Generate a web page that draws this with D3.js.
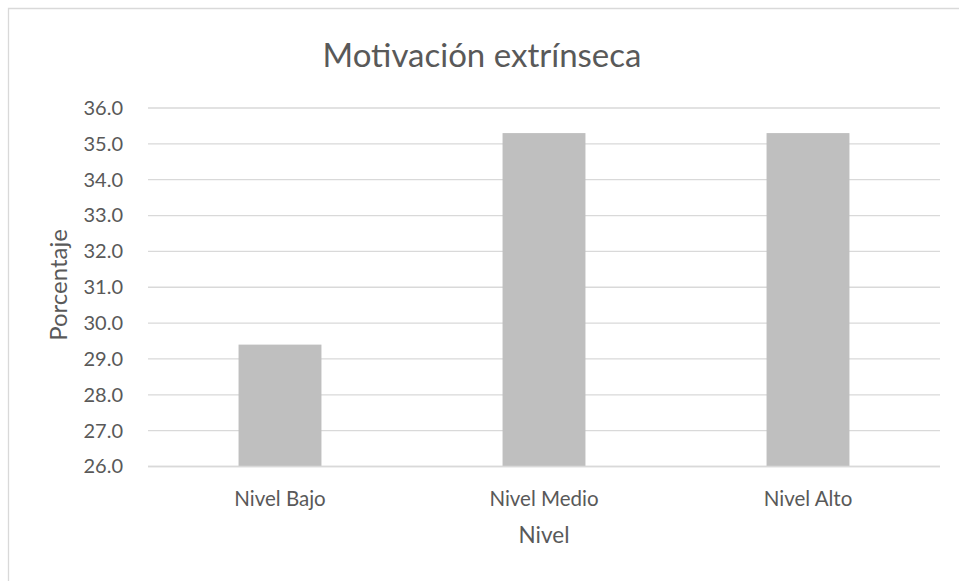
<!DOCTYPE html>
<html>
<head>
<meta charset="utf-8">
<script src="https://cdn.jsdelivr.net/npm/d3@7"></script>
<style>
  html, body { margin: 0; padding: 0; background: #fff; overflow: hidden; }
  svg { display: block; font-family: Lato, "Open Sans", sans-serif; }
</style>
</head>
<body>
<svg id="chart" width="959" height="581"></svg>
<script>
// Niveles de motivación extrínseca (porcentaje de estudiantes)
const categories = ["Nivel Bajo", "Nivel Medio", "Nivel Alto"];
const values = [29.4, 35.3, 35.3];
const yTicks = [26, 27, 28, 29, 30, 31, 32, 33, 34, 35, 36];
const title = "Motivación extrínseca";
const xTitle = "Nivel";
const yTitle = "Porcentaje";

const svg = d3.select("#chart");
const plot = { left: 148, right: 940, top: 108, bottom: 466.5 };

// chart area frame: only its top and left edges fall inside the page
svg.append("path")
  .attr("d", "M8.5,581V8.5H959")
  .attr("fill", "none").attr("stroke", "#d9d9d9").attr("stroke-width", 1.3);

const x = d3.scaleBand()
  .domain(categories)
  .range([plot.left, plot.right])
  .paddingInner(0).paddingOuter(0);

const y = d3.scaleLinear()
  .domain([26, 36])
  .range([plot.bottom, plot.top]);

const barWidth = x.bandwidth() * 0.314;

// horizontal gridlines
svg.append("g")
  .selectAll("line")
  .data(yTicks)
  .join("line")
  .attr("x1", plot.left).attr("x2", plot.right)
  .attr("y1", d => y(d)).attr("y2", d => y(d))
  .attr("stroke", "#d9d9d9").attr("stroke-width", 1.3);

// bars
svg.append("g")
  .selectAll("rect")
  .data(values)
  .join("rect")
  .attr("x", (d, i) => x(categories[i]) + (x.bandwidth() - barWidth) / 2)
  .attr("width", barWidth)
  .attr("y", d => y(d))
  .attr("height", d => y(26) - y(d))
  .attr("fill", "#bfbfbf");

// baseline axis line
svg.append("line")
  .attr("x1", plot.left).attr("x2", plot.right)
  .attr("y1", y(26)).attr("y2", y(26))
  .attr("stroke", "#d9d9d9").attr("stroke-width", 1.3);

// y axis tick labels
const yAxis = d3.axisLeft(y)
  .tickValues(yTicks)
  .tickFormat(d3.format(".1f"))
  .tickSize(0)
  .tickPadding(25);
const yg = svg.append("g")
  .attr("transform", `translate(${plot.left},0)`)
  .call(yAxis);
yg.select(".domain").remove();
yg.selectAll("text")
  .attr("fill", "#595959")
  .style("font-size", "20px")
  .style("font-family", "Lato, 'Open Sans', sans-serif");

// x axis category labels
const xAxis = d3.axisBottom(x).tickSize(0).tickPadding(25);
const xg = svg.append("g")
  .attr("transform", `translate(0,${plot.bottom})`)
  .call(xAxis);
xg.select(".domain").remove();
xg.selectAll("text")
  .attr("fill", "#595959")
  .style("font-size", "20.5px")
  .style("font-family", "Lato, 'Open Sans', sans-serif");

// chart title
svg.append("text")
  .attr("x", 482).attr("y", 67)
  .attr("text-anchor", "middle")
  .attr("fill", "#595959")
  .style("font-size", "33px")
  .text(title);

// axis titles
svg.append("text")
  .attr("x", (plot.left + plot.right) / 2).attr("y", 543)
  .attr("text-anchor", "middle")
  .attr("fill", "#595959")
  .style("font-size", "22.5px")
  .text(xTitle);

svg.append("text")
  .attr("transform", `translate(67,${285}) rotate(-90)`)
  .attr("text-anchor", "middle")
  .attr("fill", "#595959")
  .style("font-size", "24px")
  .text(yTitle);
</script>
</body>
</html>
